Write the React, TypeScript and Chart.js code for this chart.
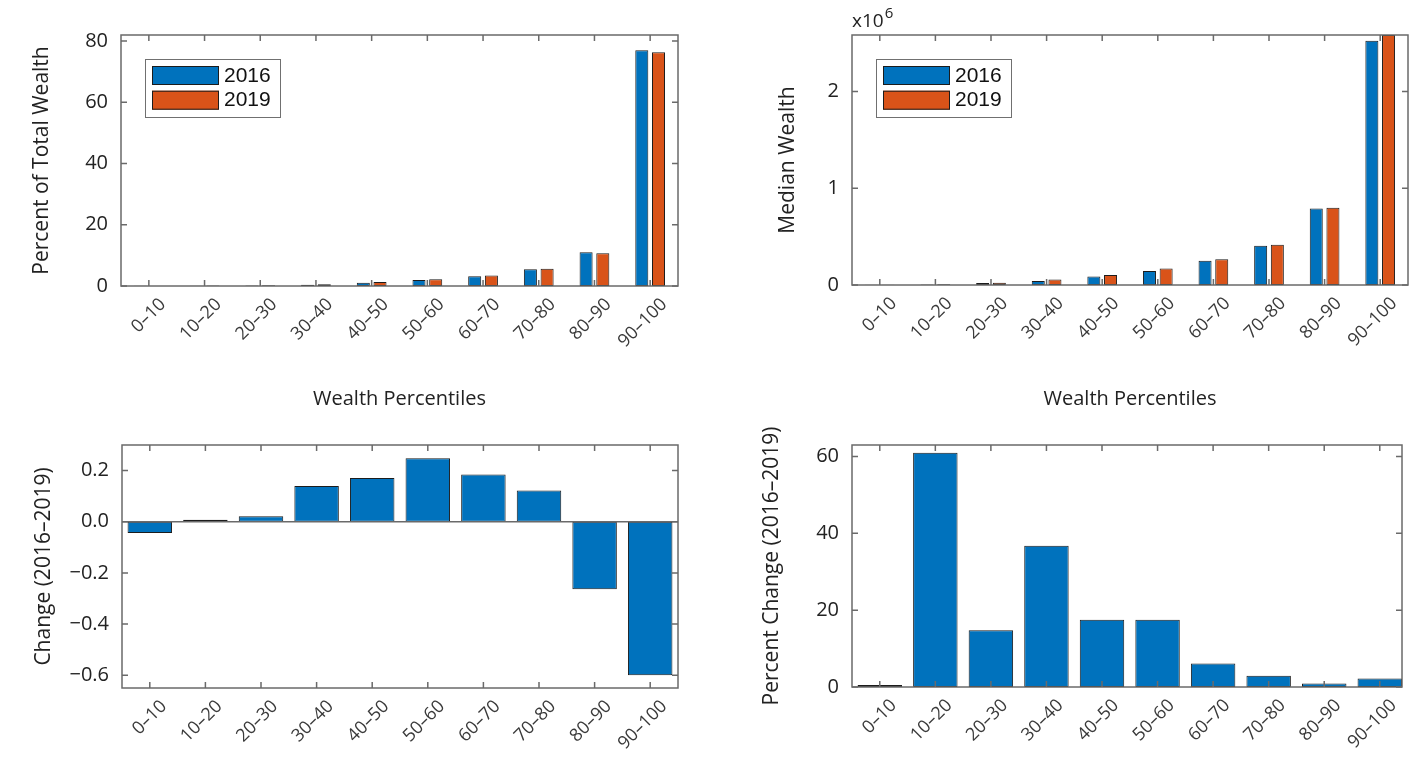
import React, { useEffect, useRef } from "react";
import { Chart, registerables } from "chart.js";

Chart.register(...registerables);

// ---- data ----
const percentiles = ["0–10", "10–20", "20–30", "30–40", "40–50", "50–60", "60–70", "70–80", "80–90", "90–100"];

const wealthShare2016 = [0.05, 0.12, 0.2, 0.42, 1.1, 1.95, 3.2, 5.5, 11.0, 77.0];
const wealthShare2019 = [0.01, 0.13, 0.22, 0.56, 1.27, 2.2, 3.39, 5.62, 10.74, 76.4];
const shareTicks = [0, 20, 40, 60, 80];
const shareTickLabels = ["0", "20", "40", "60", "80"];

const medianWealth2016 = [3000, 5000, 20000, 42000, 88000, 145000, 250000, 405000, 790000, 2525000];
const medianWealth2019 = [3015, 8050, 23000, 57500, 103300, 170200, 265300, 417000, 797900, 2585000];
const medianTicks = [0, 1000000, 2000000];
const medianTickLabels = ["0", "1", "2"];

const shareChange = [-0.044, 0.008, 0.021, 0.14, 0.171, 0.248, 0.185, 0.122, -0.264, -0.6];
const shareChangeTicks = [-0.6, -0.4, -0.2, 0, 0.2];
const shareChangeTickLabels = ["\u22120.6", "\u22120.4", "\u22120.2", "0.0", "0.2"];

const medianPercentChange = [0.5, 61, 14.8, 36.8, 17.5, 17.5, 6.1, 2.9, 0.9, 2.2];
const percentChangeTicks = [0, 20, 40, 60];
const percentChangeTickLabels = ["0", "20", "40", "60"];

// ---- styling ----
const BLUE = "#0072BD";
const ORANGE = "#D95319";
const EDGE = "#1c1c1c";
const FRAME = "#6a6a6a";
const TEXT = "#222222";
const FONT = "'Open Sans', 'DejaVu Sans', sans-serif";
const LEGEND_FONT = "'Liberation Sans', Arial, sans-serif";

type Series = { label: string; data: number[]; color: string };

type PanelSpec = {
  left: number;
  top: number;
  width: number;
  height: number;
  area: { left: number; right: number; top: number; bottom: number };
  series: Series[];
  yMin: number;
  yMax: number;
  yTicks: number[];
  yTickLabels: string[];
  yTitle: string;
  yTitleX: number;
  xTitle?: string;
  xTitleY?: number;
  xEnd?: number; // right limit of the category axis, in category-index units
  exponent?: string;
};

// Axes box with inward tick marks on all four sides, plus a zero baseline.
const framePlugin = {
  id: "matlabFrame",
  afterDatasetsDraw(chart: any) {
    const { ctx, chartArea, scales } = chart;
    const { left, right, top, bottom } = chartArea;
    const x = scales.x;
    const y = scales.y;
    const tick = 6;
    ctx.save();
    ctx.strokeStyle = FRAME;
    ctx.lineWidth = 1.5;
    if (y.min < 0 && y.max > 0) {
      const y0 = y.getPixelForValue(0);
      ctx.beginPath();
      ctx.moveTo(left, y0);
      ctx.lineTo(right, y0);
      ctx.stroke();
    }
    ctx.beginPath();
    y.ticks.forEach((t: any) => {
      const py = y.getPixelForValue(t.value);
      ctx.moveTo(left, py);
      ctx.lineTo(left + tick, py);
      ctx.moveTo(right, py);
      ctx.lineTo(right - tick, py);
    });
    x.ticks.forEach((_t: any, i: number) => {
      const px = x.getPixelForTick(i);
      ctx.moveTo(px, bottom);
      ctx.lineTo(px, bottom - tick);
      ctx.moveTo(px, top);
      ctx.lineTo(px, top + tick);
    });
    ctx.stroke();
    ctx.strokeRect(left, top, right - left, bottom - top);
    ctx.restore();
  },
};

// Boxed legend placed inside the upper-left of the plot area.
const insetLegendPlugin = {
  id: "insetLegend",
  afterDraw(chart: any) {
    const sets = chart.data.datasets;
    if (sets.length < 2) return;
    const { ctx, chartArea } = chart;
    const bx = chartArea.left + 24;
    const by = chartArea.top + 24;
    const w = 135;
    const h = 58;
    ctx.save();
    ctx.fillStyle = "#ffffff";
    ctx.fillRect(bx, by, w, h);
    ctx.strokeStyle = "#707070";
    ctx.lineWidth = 1;
    ctx.strokeRect(bx + 0.5, by + 0.5, w, h);
    ctx.font = `21px ${LEGEND_FONT}`;
    ctx.textBaseline = "middle";
    ctx.textAlign = "left";
    sets.forEach((ds: any, i: number) => {
      const sy = by + 7 + i * 24.7;
      ctx.fillStyle = ds.backgroundColor;
      ctx.fillRect(bx + 7, sy, 67, 19);
      ctx.strokeStyle = EDGE;
      ctx.strokeRect(bx + 7.5, sy + 0.5, 66, 18);
      ctx.fillStyle = "#111111";
      ctx.fillText(ds.label, bx + 79, sy + 10);
    });
    ctx.restore();
  },
};

// Axis multiplier drawn above the top-left corner of the plot area.
function exponentPlugin(power: string) {
  return {
    id: "axisExponent",
    afterDraw(chart: any) {
      const { ctx, chartArea } = chart;
      ctx.save();
      ctx.fillStyle = TEXT;
      ctx.textBaseline = "alphabetic";
      ctx.textAlign = "left";
      ctx.font = `19px ${FONT}`;
      const base = "x10";
      const x0 = chartArea.left;
      const y0 = chartArea.top - 8;
      ctx.fillText(base, x0, y0);
      const bw = ctx.measureText(base).width;
      ctx.font = `15px ${FONT}`;
      ctx.fillText(power, x0 + bw + 1, y0 - 9);
      ctx.restore();
    },
  };
}

function buildConfig(p: PanelSpec): any {
  const yAxisWidth = p.area.left - p.left;
  const xAxisHeight = p.top + p.height - p.area.bottom;
  const padTop = p.area.top - p.top;
  const padRight = p.left + p.width - p.area.right;
  const yTitleSize = 21;
  const xTitleSize = 20;
  const grouped = p.series.length > 1;
  const plugins: any[] = [framePlugin, insetLegendPlugin];
  if (p.exponent) plugins.push(exponentPlugin(p.exponent));
  return {
    type: "bar",
    data: {
      labels: percentiles,
      datasets: p.series.map((s) => ({
        label: s.label,
        data: s.data,
        backgroundColor: s.color,
        borderColor: EDGE,
        borderWidth: 1,
        borderSkipped: false,
        categoryPercentage: grouped ? 0.6 : 1,
        barPercentage: grouped ? 0.78 : 0.8,
      })),
    },
    options: {
      animation: false,
      responsive: false,
      maintainAspectRatio: false,
      layout: { padding: { top: padTop, right: padRight, left: 0, bottom: 0 } },
      plugins: { legend: { display: false }, tooltip: { enabled: false }, title: { display: false } },
      scales: {
        x: {
          grid: { display: false, drawTicks: false },
          border: { display: false },
          afterBuildTicks: (s: any) => {
            if (p.xEnd !== undefined) s._valueRange = p.xEnd - s._startValue;
          },
          ticks: {
            autoSkip: false,
            maxRotation: 45,
            minRotation: 45,
            padding: 8,
            labelOffset: 14,
            color: "#3a3a3a",
            font: { family: FONT, size: 18 },
          },
          title: p.xTitle
            ? {
                display: true,
                text: p.xTitle,
                color: TEXT,
                font: { family: FONT, size: xTitleSize },
                padding: { top: 0, bottom: p.top + p.height - (p.xTitleY as number) - (xTitleSize * 1.2) / 2 },
              }
            : { display: false },
          afterFit: (s: any) => {
            s.height = xAxisHeight;
          },
        },
        y: {
          min: p.yMin,
          max: p.yMax,
          grid: { display: false, drawTicks: false },
          border: { display: false },
          afterBuildTicks: (s: any) => {
            s.ticks = p.yTicks.map((v) => ({ value: v }));
          },
          ticks: {
            padding: 13,
            color: TEXT,
            font: { family: FONT, size: 20 },
            callback: (_v: any, i: number) => p.yTickLabels[i],
          },
          title: {
            display: true,
            text: p.yTitle,
            color: TEXT,
            font: { family: FONT, size: yTitleSize },
            padding: { top: p.yTitleX - p.left - (yTitleSize * 1.2) / 2, bottom: 0 },
          },
          afterFit: (s: any) => {
            s.width = yAxisWidth;
          },
        },
      },
    },
    plugins,
  };
}

const panels: PanelSpec[] = [
  {
    left: 0,
    top: 0,
    width: 700,
    height: 420,
    area: { left: 121, right: 678, top: 35, bottom: 286 },
    series: [
      { label: "2016", data: wealthShare2016, color: BLUE },
      { label: "2019", data: wealthShare2019, color: ORANGE },
    ],
    yMin: 0,
    yMax: 82,
    yTicks: shareTicks,
    yTickLabels: shareTickLabels,
    yTitle: "Percent of Total Wealth",
    yTitleX: 42,
    xTitle: "Wealth Percentiles",
    xTitleY: 399,
  },
  {
    left: 700,
    top: 0,
    width: 719,
    height: 420,
    area: { left: 852, right: 1408, top: 35, bottom: 285 },
    series: [
      { label: "2016", data: medianWealth2016, color: BLUE },
      { label: "2019", data: medianWealth2019, color: ORANGE },
    ],
    yMin: 0,
    yMax: Math.max(...medianWealth2019),
    yTicks: medianTicks,
    yTickLabels: medianTickLabels,
    yTitle: "Median Wealth",
    yTitleX: 788,
    xTitle: "Wealth Percentiles",
    xTitleY: 399,
    exponent: "6",
  },
  {
    left: 0,
    top: 420,
    width: 700,
    height: 347,
    area: { left: 122, right: 678, top: 437, bottom: 688 },
    series: [{ label: "Change", data: shareChange, color: BLUE }],
    yMin: -0.65,
    yMax: 0.3,
    yTicks: shareChangeTicks,
    yTickLabels: shareChangeTickLabels,
    yTitle: "Change (2016\u20132019)",
    yTitleX: 44,
  },
  {
    left: 700,
    top: 420,
    width: 719,
    height: 347,
    area: { left: 852, right: 1402, top: 437, bottom: 687 },
    series: [{ label: "Percent Change", data: medianPercentChange, color: BLUE }],
    yMin: 0,
    yMax: 63,
    yTicks: percentChangeTicks,
    yTickLabels: percentChangeTickLabels,
    yTitle: "Percent Change (2016\u20132019)",
    yTitleX: 772,
    xEnd: 9.4,
  },
];

function Panel({ spec }: { spec: PanelSpec }) {
  const ref = useRef<HTMLCanvasElement>(null);
  useEffect(() => {
    if (!ref.current) return;
    const chart = new Chart(ref.current, buildConfig(spec));
    return () => chart.destroy();
  }, [spec]);
  return (
    <canvas
      ref={ref}
      width={spec.width}
      height={spec.height}
      style={{ position: "absolute", left: spec.left, top: spec.top, width: spec.width, height: spec.height }}
    />
  );
}

export default function App() {
  return (
    <div style={{ position: "absolute", left: 0, top: 0, width: 1419, height: 767, background: "#ffffff", overflow: "hidden" }}>
      {panels.map((p, i) => (
        <Panel key={i} spec={p} />
      ))}
    </div>
  );
}
